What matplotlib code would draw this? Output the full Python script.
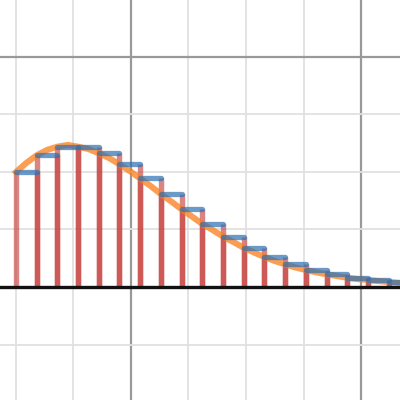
import numpy as np
import matplotlib
matplotlib.use("Agg")
import matplotlib.pyplot as plt

# left endpoints of the Riemann rectangles
x_start = -2.0
x_step = 0.36
step_heights = [2.00, 2.29, 2.44, 2.44, 2.325, 2.134, 1.887, 1.617, 1.351, 1.096,
                0.878, 0.683, 0.522, 0.395, 0.296, 0.221, 0.162, 0.122, 0.087]

# curve read at the left endpoints and the midpoints of each step
curve_mid = [2.157, 2.383, 2.470, 2.400, 2.243, 2.017, 1.757, 1.487, 1.226, 0.991,
             0.783, 0.600, 0.452, 0.339, 0.256, 0.191, 0.139, 0.104, 0.070]

RED = "#c74440"
BLUE = "#2d70b3"
ORANGE = "#fa7e19"

n = len(step_heights)
left = x_start + x_step * np.arange(n)
right = left + x_step

fig = plt.figure(figsize=(4, 4), dpi=100)
ax = fig.add_axes([0, 0, 1, 1])
ax.set_xlim(-2.278, 4.678)
ax.set_ylim(-1.965, 4.991)
ax.axis("off")

# grid
for gx in range(-2, 5):
    major = gx % 4 == 0
    ax.axvline(gx, color="#999999" if major else "#e0e0e0", lw=1.6 if major else 1.3, zorder=0)
for gy in range(-1, 5):
    if gy == 0:
        continue
    major = gy % 4 == 0
    ax.axhline(gy, color="#999999" if major else "#e0e0e0", lw=1.6 if major else 1.3, zorder=0)

# rectangle sides
for xl, xr, h in zip(left, right, step_heights):
    ax.plot([xl, xl], [0, h], color=RED, lw=3.9, alpha=0.65, solid_capstyle="butt", zorder=2)
    ax.plot([xr, xr], [0, h], color=RED, lw=3.9, alpha=0.65, solid_capstyle="butt", zorder=2)

# curve through endpoint and midpoint readings
cx, cy = [], []
for i in range(n):
    cx += [left[i], left[i] + x_step / 2]
    cy += [step_heights[i], curve_mid[i]]
ax.plot(cx, cy, color=ORANGE, lw=4.4, alpha=0.75, solid_joinstyle="round", zorder=3)

# rectangle tops
for xl, xr, h in zip(left, right, step_heights):
    ax.plot([xl, xr], [h, h], color=BLUE, lw=3.8, alpha=0.7, solid_capstyle="round", zorder=4)

ax.axhline(0, color="#111111", lw=2.4, zorder=5)

fig.savefig("out.png", dpi=100)
